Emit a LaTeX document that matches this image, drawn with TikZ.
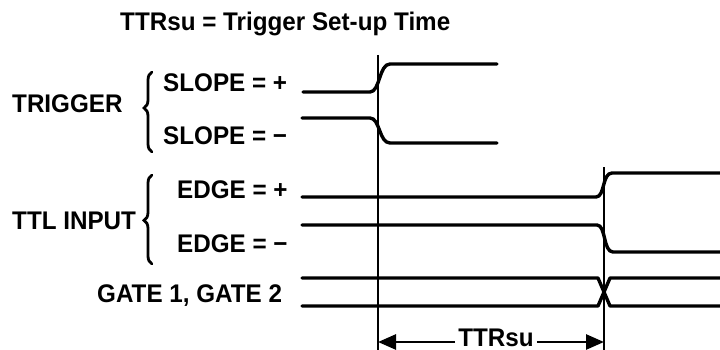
\documentclass[tikz,border=0pt]{standalone}
\usepackage{fontspec}
\setmainfont{Liberation Sans}[FakeStretch=0.95]
\usetikzlibrary{arrows.meta,decorations.pathreplacing}
\begin{document}
\begin{tikzpicture}[x=1pt,y=-1pt,
  sig/.style={line width=3.4pt,line cap=round,line join=round},
  vline/.style={line width=2.6pt},
  lbl/.style={font=\fontsize{25.5}{30}\selectfont\bfseries,inner sep=0pt,anchor=base west},
  brc/.style={decorate,decoration={brace,amplitude=8pt,raise=0pt},line width=2.8pt,line cap=round},
  dimarrow/.style={line width=2.6pt,-{Triangle[length=18pt,width=15pt]}}]
\useasboundingbox (0,0) rectangle (720,350);
% labels
\node[lbl] (title) at (120,31) {TTRsu = Trigger Set-up Time};
\node[lbl] (trig) at (12,113) {TRIGGER};
\node[lbl] (slp) at (163,92) {SLOPE = +};
\node[lbl] (slm) at (163,145) {SLOPE = −};
\node[lbl] (ttl) at (12,229) {TTL INPUT};
\node[lbl] (edp) at (177,198) {EDGE = +};
\node[lbl] (edm) at (177,252) {EDGE = −};
\node[lbl] (gate) at (97,302) {GATE 1, GATE 2};
\node[lbl,anchor=base,inner xsep=3pt,text depth=0pt] (ttrsu) at (496,346) {TTRsu};
% braces
\coordinate (b1s) at (152,152); \coordinate (b1e) at (152,72);
\draw[brc,decoration={aspect=0.55}] (b1s) -- (b1e);
\coordinate (b2s) at (152,264); \coordinate (b2e) at (152,175);
\draw[brc,decoration={aspect=0.49}] (b2s) -- (b2e);
% vertical reference lines
\coordinate (v1t) at (378,55); \coordinate (v1b) at (378,350);
\coordinate (v2t) at (604,167); \coordinate (v2b) at (604,350);
\draw[vline] (v1t) -- (v1b);
\draw[vline] (v2t) -- (v2b);
% trigger signals
\draw[sig] (303,92) -- (370,92) .. controls (380,92) and (379,64) .. (390,64) -- (497,64);
\draw[sig] (302,118) -- (370,118) .. controls (380,118) and (379,143) .. (390,143) -- (497,143);
% TTL input signals
\draw[sig] (302,197) -- (596,197) .. controls (605,197) and (602,173) .. (612,173) -- (722,173);
\draw[sig] (302,225) -- (597,225) .. controls (606,225) and (603,252) .. (613,252) -- (722,252);
% gate signals
\draw[sig] (302,278) -- (598,278) -- (610,306) -- (722,306);
\draw[sig] (302,306) -- (598,306) -- (610,278) -- (722,278);
% dimension arrows
\coordinate (a1) at (378,342); \coordinate (a2) at (604,342);
\draw[dimarrow] (ttrsu.west |- a1) -- (a1);
\draw[dimarrow] (ttrsu.east |- a2) -- (a2);
\end{tikzpicture}
\end{document}
